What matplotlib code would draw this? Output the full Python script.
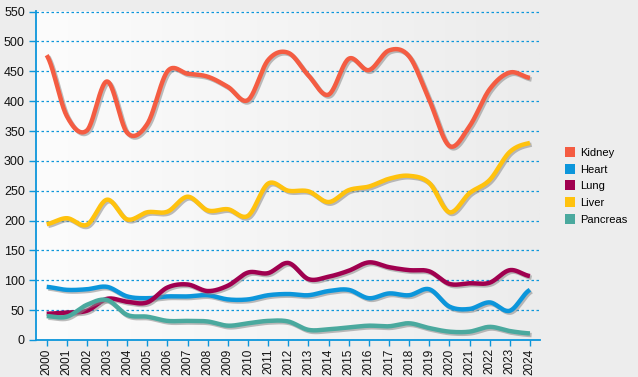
import numpy as np
import matplotlib
matplotlib.use("Agg")
import matplotlib.pyplot as plt
import matplotlib.patheffects as pe
from matplotlib.lines import Line2D
from matplotlib.colors import LinearSegmentedColormap

#### Data ####
years = [str(y) for y in range(2000, 2025)]
kidney = [477, 375, 351, 433, 347, 362, 450, 446, 441, 424, 402, 469, 481, 443,
          411, 471, 452, 485, 475, 402, 325, 358, 420, 448, 439]
heart = [89, 84, 85, 89, 73, 70, 73, 73, 75, 68, 68, 75, 77, 75,
         82, 84, 70, 78, 75, 85, 56, 52, 63, 49, 84]
lung = [44, 46, 49, 69, 64, 63, 88, 93, 82, 91, 113, 112, 129, 102,
        106, 116, 130, 122, 117, 115, 94, 95, 96, 117, 107]
liver = [194, 204, 193, 235, 202, 214, 215, 240, 217, 219, 208, 262, 250, 249,
         231, 251, 257, 270, 275, 263, 214, 246, 268, 315, 330]
pancreas = [40, 39, 59, 67, 42, 39, 32, 32, 31, 24, 28, 32, 31, 17,
            18, 21, 24, 23, 28, 20, 14, 14, 22, 15, 11]

series = [("Kidney", kidney, "#f45c42"),
          ("Heart", heart, "#0c96db"),
          ("Lung", lung, "#a0004f"),
          ("Liver", liver, "#ffc20e"),
          ("Pancreas", pancreas, "#4aa99e")]

#### Catmull-Rom smoothing for drawing ####
def smooth(y, n=24):
    y = np.asarray(y, float)
    p = np.concatenate([[y[0]], y, [y[-1]]])
    xs, ys = [], []
    t = np.linspace(0, 1, n, endpoint=False)
    for i in range(len(y) - 1):
        p0, p1, p2, p3 = p[i], p[i + 1], p[i + 2], p[i + 3]
        v = 0.5 * ((2 * p1) + (-p0 + p2) * t + (2 * p0 - 5 * p1 + 4 * p2 - p3) * t ** 2
                   + (-p0 + 3 * p1 - 3 * p2 + p3) * t ** 3)
        xs.append(i + t)
        ys.append(v)
    xs.append([len(y) - 1])
    ys.append([y[-1]])
    return np.concatenate(xs), np.concatenate(ys)

plt.rcParams['font.family'] = ['Liberation Sans', 'DejaVu Sans']
blue = "#0c96db"

fig = plt.figure(figsize=(6.38, 3.77), dpi=100, facecolor="#ededed")
ax = fig.add_axes([36 / 638, 37 / 377, 504 / 638, 329 / 377])

#### Background gradient ####
grad = np.linspace(0, 1, 256)[None, :]
bg = LinearSegmentedColormap.from_list("bg", ["#fcfcfc", "#ececec"])
ax.imshow(grad, extent=[0, 1, 0, 1], transform=ax.transAxes, cmap=bg,
          aspect="auto", zorder=0)

#### Lines ####
for name, vals, col in series:
    sx, sy = smooth(vals)
    ax.plot(sx, sy, color=col, lw=3.2, solid_capstyle="butt", zorder=3,
            path_effects=[pe.SimpleLineShadow(offset=(1.2, -1.2), shadow_color="#888888", alpha=0.55),
                          pe.Normal()])

#### Axes styling ####
ax.set_xlim(-0.53, 24.5)
ax.set_ylim(0, 551)
ax.set_yticks(range(0, 551, 50))
ax.set_xticks(range(len(years)))
ax.set_xticklabels(years, rotation=90)
ax.yaxis.grid(True, color=blue, linestyle=(0, (2, 2)), lw=0.9)
ax.set_axisbelow(True)
for s in ["top", "right"]:
    ax.spines[s].set_visible(False)
for s in ["left", "bottom"]:
    ax.spines[s].set_color(blue)
    ax.spines[s].set_linewidth(1.3)
ax.tick_params(axis="y", colors=blue, length=5, width=1, labelcolor="#111111", labelsize=9, pad=3)
ax.tick_params(axis="x", colors=blue, length=4, width=1, labelcolor="#111111", labelsize=8.5, pad=2)

#### Legend ####
handles = [Line2D([], [], marker="s", ls="none", markersize=7, color=c,
                  markeredgewidth=0) for _, _, c in series]
fig.legend(handles, [n for n, _, _ in series], loc="upper left",
           bbox_to_anchor=(553 / 638, 1 - 138 / 377), frameon=False,
           fontsize=8, handletextpad=0.35, labelspacing=0.6, handlelength=1.2)

fig.savefig("out.png", dpi=100, facecolor=fig.get_facecolor())
